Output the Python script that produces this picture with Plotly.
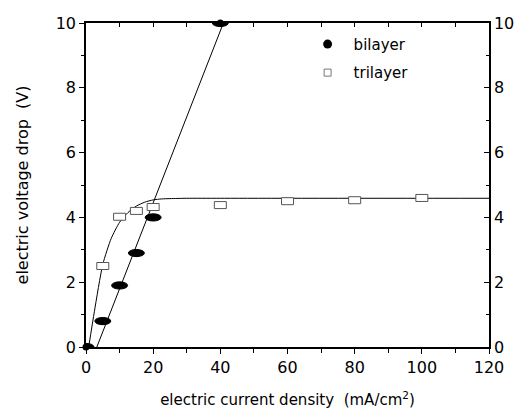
import numpy as np
import plotly.graph_objects as go

# ---- data ----
bi_x = [0, 5, 10, 15, 20, 40]
bi_y = [0.0, 0.8, 1.9, 2.9, 4.0, 10.0]

tri_x = [5, 10, 15, 20, 40, 60, 80, 100]
tri_y = [2.5, 4.02, 4.2, 4.32, 4.38, 4.5, 4.53, 4.6]

# trilayer fit curve
tri_fit_x = [0.8, 2.5, 5, 7.5, 10, 12.5, 15, 17.5, 20, 22.5, 25, 30, 40, 120]
tri_fit_y = [0.0, 1.1, 2.55, 3.35, 3.85, 4.15, 4.35, 4.47, 4.54, 4.57, 4.58, 4.59, 4.59, 4.59]

x_ticks = [0, 20, 40, 60, 80, 100, 120]
y_ticks = [0, 2, 4, 6, 8, 10]

# bilayer linear fit (least squares on the non-zero points)
bx = np.array(bi_x[1:], float)
by = np.array(bi_y[1:], float)
slope, icpt = np.polyfit(bx, by, 1)
x_start = -icpt / slope
x_end = (10 - icpt) / slope
bi_fit_x = [x_start, x_end]
bi_fit_y = [slope * v + icpt for v in bi_fit_x]

FONT = "DejaVu Sans, Liberation Sans, Arial, sans-serif"

fig = go.Figure()

# fit lines
fig.add_trace(go.Scatter(x=bi_fit_x, y=bi_fit_y, mode="lines",
                         line=dict(color="black", width=1), showlegend=False,
                         hoverinfo="skip"))
fig.add_trace(go.Scatter(x=tri_fit_x, y=tri_fit_y, mode="lines",
                         line=dict(color="black", width=1, shape="spline", smoothing=0.6),
                         showlegend=False, hoverinfo="skip"))

# core bilayer markers, drawn on the mirrored axes (same ranges) so they are active
fig.add_trace(go.Scatter(x=bi_x, y=bi_y, mode="markers", name="bilayer",
                         xaxis="x2", yaxis="y2",
                         marker=dict(symbol="circle", size=7, color="black"),
                         cliponaxis=False, showlegend=False))
# legend entries
fig.add_trace(go.Scatter(x=[None], y=[None], mode="markers", name="bilayer",
                         legendgroup="a",
                         marker=dict(symbol="circle", size=9, color="black")))
fig.add_trace(go.Scatter(x=[None], y=[None], mode="markers", name="trilayer",
                         legendgroup="b",
                         marker=dict(symbol="square-open", size=7, color="#777777",
                                     line=dict(width=1))))

# elliptical / rectangular marks sized in pixels, anchored at the data values
shapes = []
for xv, yv in zip(bi_x, bi_y):
    shapes.append(dict(type="circle", xref="x", yref="y", xsizemode="pixel",
                       ysizemode="pixel", xanchor=xv, yanchor=yv,
                       x0=-8, x1=8, y0=-3.6, y1=3.6,
                       fillcolor="black", line=dict(color="black", width=1)))
for xv, yv in zip(tri_x, tri_y):
    shapes.append(dict(type="rect", xref="x", yref="y", xsizemode="pixel",
                       ysizemode="pixel", xanchor=xv, yanchor=yv,
                       x0=-6, x1=6, y0=-3.5, y1=3.5,
                       fillcolor="white", line=dict(color="#555555", width=1)))

axis_common = dict(showgrid=False, zeroline=False, showline=True,
                   linecolor="black", linewidth=1.5, tickcolor="black",
                   tickwidth=1.2, automargin=False)

fig.update_layout(
    width=530, height=409,
    margin=dict(l=86, r=41, t=23, b=62),
    paper_bgcolor="white", plot_bgcolor="white",
    font=dict(family=FONT, color="black", size=15),
    shapes=shapes,
    xaxis=dict(range=[0, 120], tickvals=x_ticks, ticks="outside", ticklen=5,
               minor=dict(dtick=10, ticks="outside", ticklen=4, tickcolor="black"),
               tickfont=dict(size=16),
               title=dict(text="electric current density  (mA/cm<sup>2</sup>)",
                          font=dict(size=15), standoff=19),
               **axis_common),
    xaxis2=dict(range=[0, 120], overlaying="x", side="top", ticks="inside",
                ticklen=4, dtick=10, showticklabels=False, **axis_common),
    yaxis=dict(range=[0, 10], tickvals=y_ticks, ticks="outside", ticklen=5,
               minor=dict(dtick=1, ticks="outside", ticklen=3, tickcolor="black"),
               tickfont=dict(size=16),
               title=dict(text="electric voltage drop  (V)", font=dict(size=16),
                          standoff=23),
               **axis_common),
    yaxis2=dict(range=[0, 10], overlaying="y", side="right", tickvals=y_ticks,
                ticks="inside", ticklen=5,
                minor=dict(dtick=1, ticks="inside", ticklen=3, tickcolor="black"),
                tickfont=dict(size=16), **axis_common),
    legend=dict(x=0.535, y=0.985, xanchor="left", yanchor="top",
                bgcolor="rgba(0,0,0,0)", font=dict(size=15), itemwidth=42,
                traceorder="grouped", tracegroupgap=6),
)

fig.write_html("out.html", config={"displayModeBar": False},
               post_script="document.body.style.margin='0px';")
